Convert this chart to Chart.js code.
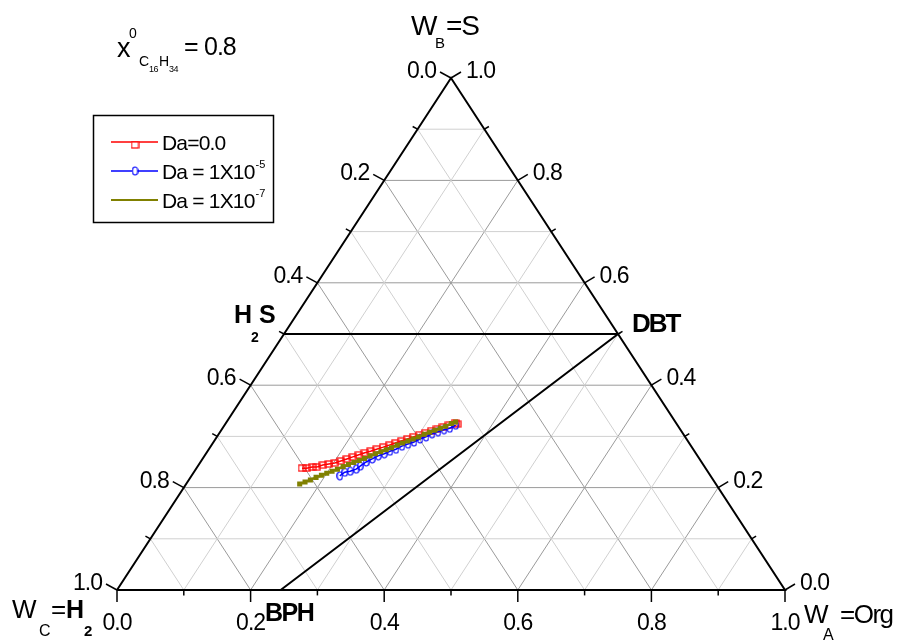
<!DOCTYPE html>
<html>
<head>
<meta charset="utf-8">
<script src="https://cdn.jsdelivr.net/npm/chart.js@4"></script>
<style>
  html, body { margin: 0; padding: 0; background: #fff; }
  #wrap { width: 905px; height: 642px; }
</style>
</head>
<body>
<div id="wrap"><canvas id="chart"></canvas></div>
<script>
// ternary grid / tick values (fractions)
const gridVals = [0.1, 0.2, 0.3, 0.4, 0.5, 0.6, 0.7, 0.8, 0.9];
const tickVals = [0, 0.1, 0.2, 0.3, 0.4, 0.5, 0.6, 0.7, 0.8, 0.9, 1.0];
const tickLabels = ['0.0', '', '0.2', '', '0.4', '', '0.6', '', '0.8', '', '1.0'];

const seriesNames = ['Da=0.0', 'Da = 1X10', 'Da = 1X10'];
const seriesExp = ['', '-5', '-7'];
const redOrg = [0.158, 0.165, 0.172, 0.179, 0.186, 0.194, 0.202, 0.209, 0.216, 0.223, 0.230, 0.237, 0.244, 0.251,
  0.259, 0.266, 0.273, 0.280, 0.287, 0.294, 0.301, 0.308, 0.315, 0.322, 0.329, 0.336, 0.343, 0.347];
const redS = [0.238, 0.238, 0.240, 0.240, 0.244, 0.246, 0.248, 0.252, 0.256, 0.260, 0.264, 0.268, 0.271, 0.275,
  0.279, 0.283, 0.287, 0.291, 0.295, 0.299, 0.303, 0.307, 0.311, 0.314, 0.318, 0.322, 0.326, 0.324];
const blueOrg = [0.222, 0.226, 0.233, 0.240, 0.243, 0.248, 0.254, 0.260, 0.267, 0.273, 0.280, 0.286, 0.293, 0.300,
  0.306, 0.313, 0.319, 0.326, 0.333, 0.340, 0.346];
const blueS = [0.223, 0.230, 0.232, 0.236, 0.242, 0.250, 0.256, 0.262, 0.266, 0.271, 0.275, 0.281, 0.285, 0.289,
  0.295, 0.299, 0.305, 0.309, 0.313, 0.316, 0.322];
const oliveOrg = [0.170, 0.176, 0.182, 0.188, 0.194, 0.200, 0.206, 0.212, 0.218, 0.224, 0.230, 0.236, 0.242, 0.248,
  0.254, 0.260, 0.266, 0.272, 0.278, 0.284, 0.290, 0.296, 0.302, 0.308, 0.314, 0.320, 0.326, 0.332, 0.338, 0.343];
const oliveS = [0.207, 0.211, 0.215, 0.220, 0.224, 0.228, 0.232, 0.236, 0.241, 0.245, 0.249, 0.253, 0.257, 0.262,
  0.266, 0.270, 0.274, 0.278, 0.283, 0.287, 0.291, 0.295, 0.299, 0.304, 0.308, 0.312, 0.316, 0.320, 0.325, 0.328];

// H2S -> DBT -> BPH reaction line
const reactOrg = [0, 0.5, 0.245];
const reactS = [0.5, 0.5, 0];

const colors = ['#ff0000', '#0000ff', '#808000'];

// ternary (a = Org, b = S) to plain x/y
const tern = (a, b) => ({ x: a + b / 2, y: b });
const pts = (A, B) => A.map((a, i) => tern(a, B[i]));

function marker(kind, color) {
  const c = document.createElement('canvas');
  c.width = kind === 'rect' ? 9 : 7;
  c.height = kind === 'rect' ? 8 : 10;
  const g = c.getContext('2d');
  g.strokeStyle = color; g.lineWidth = 1.2;
  if (kind === 'rect') g.strokeRect(1, 1, 7, 6);
  else { g.beginPath(); g.ellipse(3.5, 5, 2.7, 4, 0, 0, Math.PI * 2); g.stroke(); }
  return c;
}
const redMark = marker('rect', colors[0]);
const blueMark = marker('ring', colors[1]);

const datasets = [];
datasets.push({ data: pts(oliveOrg, oliveS), borderColor: colors[2], backgroundColor: colors[2], borderWidth: 2.5,
  pointStyle: 'rect', pointRadius: 1.8, showLine: true, order: 1, clip: false });
datasets.push({ data: pts(blueOrg, blueS), borderColor: colors[1], borderWidth: 1.5,
  pointStyle: blueMark, pointRadius: 4, showLine: true, order: 2, clip: false });
datasets.push({ data: pts(redOrg, redS), borderColor: colors[0], borderWidth: 1.5,
  pointStyle: redMark, pointRadius: 4, showLine: true, order: 3, clip: false });
datasets.push({ data: pts(reactOrg, reactS), borderColor: '#000', borderWidth: 2, pointRadius: 0,
  showLine: true, order: 9, clip: false });
datasets.push({ data: pts([0, 1, 0, 0], [0, 0, 1, 0]), borderColor: '#000', borderWidth: 2, pointRadius: 0,
  showLine: true, order: 10, clip: false });
gridVals.forEach((v, i) => {
  const col = i % 2 ? '#9a9a9a' : '#d0d0d0';
  [[tern(0, v), tern(1 - v, v)], [tern(v, 0), tern(v, 1 - v)], [tern(1 - v, 0), tern(0, 1 - v)]].forEach(seg => {
    datasets.push({ data: seg, borderColor: col, borderWidth: 1, pointRadius: 0, showLine: true, order: 20 });
  });
});

function txt(ctx, s, x, y, font, align, ls) {
  ctx.font = font;
  ctx.textAlign = align || 'left';
  ctx.letterSpacing = (ls || 0) + 'px';
  ctx.fillText(s, x, y);
}

const F = 'Liberation Sans, Arial, sans-serif';

const decor = {
  id: 'decor',
  afterDraw(chart) {
    const ctx = chart.ctx;
    const xs = chart.scales.x, ys = chart.scales.y;
    const P = (a, b) => ({ x: xs.getPixelForValue(a + b / 2), y: ys.getPixelForValue(b) });
    ctx.save();
    ctx.fillStyle = '#000';
    ctx.strokeStyle = '#000';
    ctx.lineWidth = 1.5;
    ctx.textBaseline = 'alphabetic';

    // ticks and tick labels
    tickVals.forEach((v, i) => {
      const major = i % 2 === 0;
      const k = major ? 1 : 0.45;
      const seg = (p, dx, dy) => { ctx.beginPath(); ctx.moveTo(p.x, p.y); ctx.lineTo(p.x + dx * k, p.y + dy * k); ctx.stroke(); };
      const pb = P(v, 0);          // bottom: W_A
      const pr = P(1 - v, v);      // right: W_B
      const pl = P(0, 1 - v);      // left: W_C
      seg(pb, 0, 12);
      seg(pr, 10, -6);
      seg(pl, -11, -6);
      if (major) {
        txt(ctx, tickLabels[i], pb.x, pb.y + 40, '23px ' + F, 'center', -1);
        txt(ctx, tickLabels[i], pr.x + 15, pr.y, '23px ' + F, 'left', -1);
        txt(ctx, tickLabels[i], pl.x - 15, pl.y, '23px ' + F, 'right', -1);
      }
    });

    // axis titles
    txt(ctx, 'W', 411, 35, '28px ' + F, 'left', -1);
    txt(ctx, 'B', 435, 48, '15px ' + F);
    txt(ctx, '=S', 446, 35, '28px ' + F, 'left', -1);

    txt(ctx, 'W', 12, 618, '26px ' + F, 'left', -1);
    txt(ctx, 'C', 39, 636, '16px ' + F);
    txt(ctx, '=', 51, 618, '26px ' + F);
    txt(ctx, 'H', 66, 618, 'bold 25px ' + F);
    txt(ctx, '2', 84, 636, 'bold 15px ' + F);

    txt(ctx, 'W', 804, 623, '26px ' + F, 'left', -1);
    txt(ctx, 'A', 823, 640, '16px ' + F);
    txt(ctx, '=Org', 840, 623, '26px ' + F, 'left', -1.5);

    // species labels
    txt(ctx, 'H', 234, 323, 'bold 25px ' + F);
    txt(ctx, '2', 251, 342, 'bold 14px ' + F);
    txt(ctx, 'S', 259, 323, 'bold 25px ' + F);
    txt(ctx, 'DBT', 632, 332, 'bold 26px ' + F, 'left', -2);
    txt(ctx, 'BPH', 265, 621, 'bold 25px ' + F, 'left', -1.5);

    // initial composition note
    txt(ctx, 'x', 117, 57, '27px ' + F);
    txt(ctx, '0', 129, 38, '14px ' + F);
    txt(ctx, 'C', 139, 66, '14px ' + F);
    txt(ctx, '16', 149, 72, '9px ' + F, 'left', -0.5);
    txt(ctx, 'H', 159, 66, '14px ' + F);
    txt(ctx, '34', 169, 72, '9px ' + F, 'left', -0.5);
    txt(ctx, '=', 184, 55, '25px ' + F);
    txt(ctx, '0.8', 204, 55, '25px ' + F, 'left', -1);

    // legend
    ctx.lineWidth = 1.5;
    ctx.strokeRect(93.5, 115.5, 180, 107);
    const rows = [142, 171, 200];
    const marks = [redMark, blueMark, null];
    rows.forEach((y, i) => {
      ctx.strokeStyle = colors[i];
      ctx.lineWidth = i === 2 ? 2 : 1.5;
      ctx.beginPath(); ctx.moveTo(111, y); ctx.lineTo(158, y); ctx.stroke();
      if (marks[i]) {
        ctx.fillStyle = '#fff';
        const m = marks[i];
        const ox = 135 - m.width / 2, oy = (i === 0 ? y + 3 : y) - m.height / 2;
        ctx.fillRect(ox + 1, oy + 1, m.width - 2, m.height - 2);
        ctx.drawImage(m, ox, oy);
      }
      ctx.fillStyle = '#000';
      txt(ctx, seriesNames[i], 162, y + 8, '21px ' + F, 'left', -0.8);
      if (seriesExp[i]) {
        const w = ctx.measureText(seriesNames[i]).width;
        txt(ctx, seriesExp[i], 162 + w + 1, y - 3, '11px ' + F);
      }
    });
    ctx.restore();
  }
};

new Chart(document.getElementById('chart'), {
  type: 'scatter',
  data: { datasets },
  options: {
    responsive: true,
    maintainAspectRatio: false,
    animation: false,
    layout: { padding: { left: 117, right: 120, top: 78, bottom: 52 } },
    elements: { line: { tension: 0 } },
    scales: {
      x: { type: 'linear', min: 0, max: 1, display: false },
      y: { type: 'linear', min: 0, max: 1, display: false }
    },
    plugins: { legend: { display: false }, tooltip: { enabled: false } }
  },
  plugins: [decor]
});
</script>
</body>
</html>
